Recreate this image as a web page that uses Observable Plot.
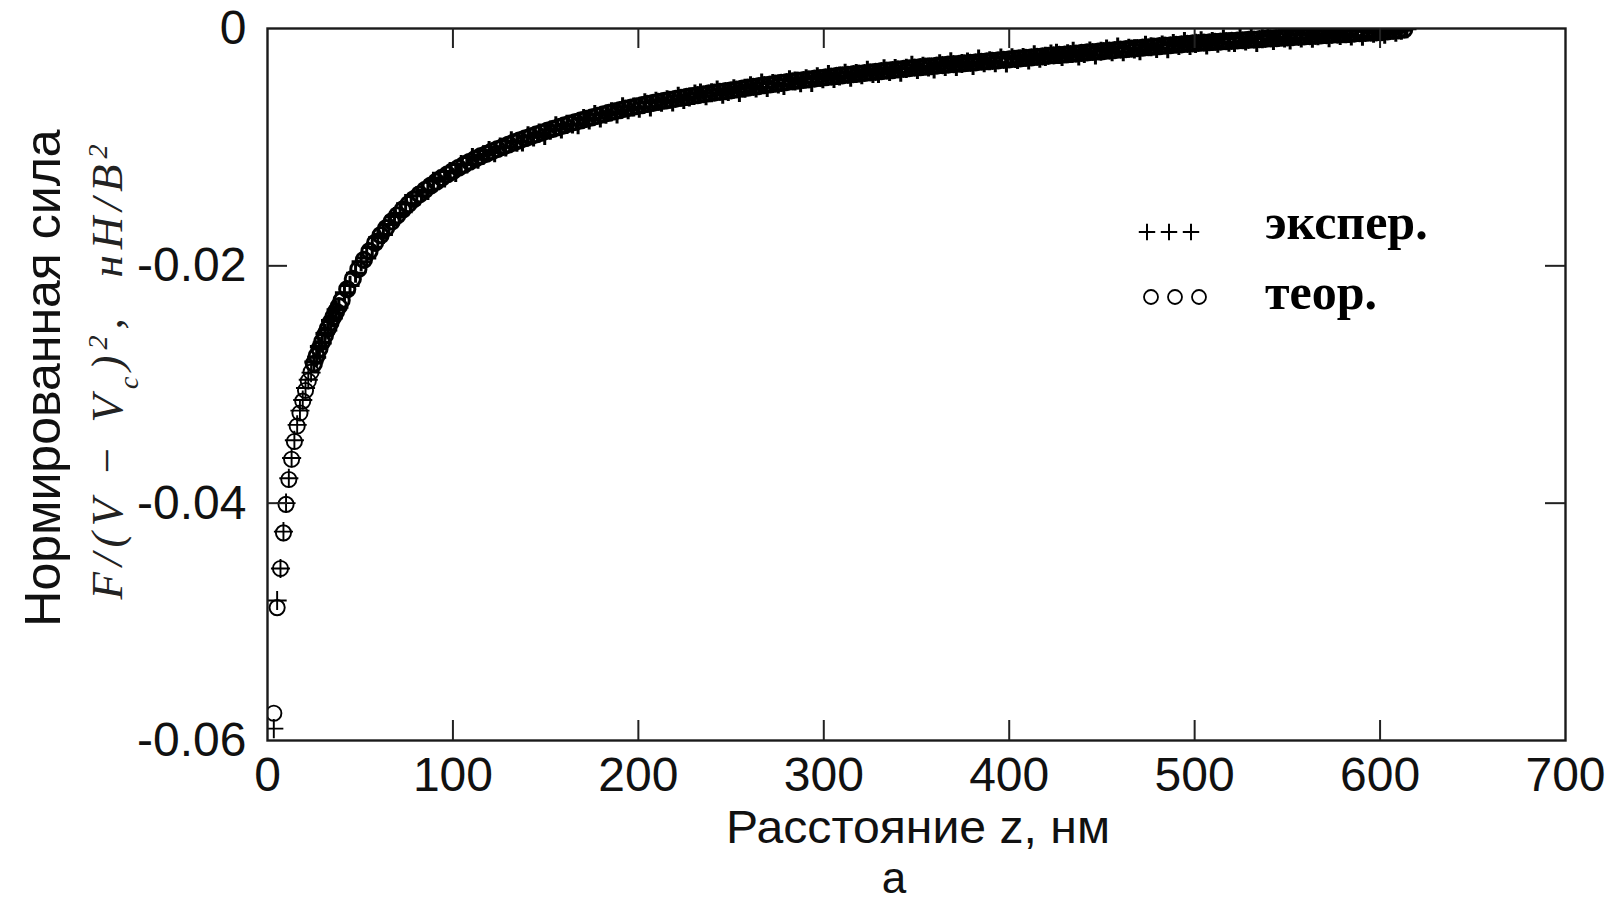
<!DOCTYPE html>
<html>
<head>
<meta charset="utf-8">
<script src="https://cdn.jsdelivr.net/npm/d3@7"></script>
<script src="https://cdn.jsdelivr.net/npm/@observablehq/plot@0.6"></script>
<style>
  html, body { margin: 0; padding: 0; background: #fff; }
</style>
</head>
<body>
<div id="chart"></div>
<script>
// ---- data ----
// theoretical curve: distance z (nm) and normalised force
const zTheory = [3.4,5.2,7,8.6,10,11.5,13,14.5,16,17.5,19,20.5,22,23.5,25,26.5,28,29.5,31,32.5,34,35.5,37,38.5,
40,43,46,49,52,55,58,61,64,67,70,73,76,79,82,85,88,91,94,97,
100,103,106,109,112,115,118,121,124,127,130,133,136,139,142,145,148,151,154,157,160,163,166,169,172,175,178,181,184,187,190,193,196,199,
202,205,208,211,214,217,220,223,226,229,232,235,238,241,244,247,250,253,256,259,262,265,268,271,274,277,280,283,286,289,292,295,298,
301,304,307,310,313,316,319,322,325,328,331,334,337,340,343,346,349,352,355,358,361,364,367,370,373,376,379,382,385,388,391,394,397,
400,403,406,409,412,415,418,421,424,427,430,433,436,439,442,445,448,451,454,457,460,463,466,469,472,475,478,481,484,487,490,493,496,499,
502,505,508,511,514,517,520,523,526,529,532,535,538,541,544,547,550,553,556,559,562,565,568,571,574,577,580,583,586,589,592,595,598,
601,604,607,610,613];

const theory = [-0.0577,-0.0488,-0.0455,-0.0425,-0.0401,-0.038,-0.0363,-0.0348,-0.0335,-0.0324,-0.0314,-0.0305,-0.0297,-0.02895,-0.02825,-0.0276,-0.027,-0.0264,-0.02585,-0.0253,-0.0248,-0.0243,-0.02385,-0.0234,
-0.0229,-0.02197,-0.0211,-0.02028,-0.0195,-0.01876,-0.01807,-0.01742,-0.01682,-0.01626,-0.01574,-0.01525,-0.0148,-0.01437,-0.01397,-0.0136,-0.01324,-0.01291,-0.01259,-0.01229,
-0.01201,-0.01174,-0.01148,-0.01123,-0.01099,-0.01076,-0.01056,-0.01036,-0.01016,-0.00997,-0.00978,-0.00959,-0.00942,-0.00925,-0.00909,-0.00892,-0.00877,-0.00861,-0.00846,-0.00831,-0.00816,-0.00802,-0.00788,-0.00775,-0.00761,-0.00749,-0.00736,-0.00724,-0.00711,-0.00699,-0.00688,-0.00676,-0.00666,-0.00655,
-0.00646,-0.00636,-0.00627,-0.00618,-0.00609,-0.00601,-0.00593,-0.00585,-0.00577,-0.00569,-0.00562,-0.00554,-0.00547,-0.0054,-0.00534,-0.00527,-0.00521,-0.00514,-0.00506,-0.00499,-0.00492,-0.00485,-0.00478,-0.00472,-0.00465,-0.00459,-0.00452,-0.00446,-0.0044,-0.00434,-0.00428,-0.00422,-0.00417,
-0.00411,-0.00406,-0.004,-0.00395,-0.0039,-0.00385,-0.0038,-0.00375,-0.0037,-0.00365,-0.0036,-0.00355,-0.0035,-0.00345,-0.0034,-0.00335,-0.0033,-0.00326,-0.00322,-0.00318,-0.00313,-0.00309,-0.00305,-0.00301,-0.00297,-0.00293,-0.00289,-0.00285,-0.0028,-0.00276,-0.00272,-0.00268,-0.00264,
-0.0026,-0.00256,-0.00252,-0.00248,-0.00244,-0.00239,-0.00235,-0.00231,-0.00227,-0.00223,-0.00219,-0.00215,-0.00211,-0.00206,-0.00202,-0.00198,-0.00194,-0.0019,-0.00186,-0.00182,-0.00178,-0.00174,-0.0017,-0.00166,-0.00162,-0.00158,-0.00153,-0.00149,-0.00145,-0.00141,-0.00137,-0.00133,-0.00129,-0.00125,
-0.00122,-0.00119,-0.00116,-0.00113,-0.0011,-0.00107,-0.00104,-0.00101,-0.00099,-0.00096,-0.00093,-0.0009,-0.00087,-0.00084,-0.00081,-0.00078,-0.00075,-0.00072,-0.0007,-0.00067,-0.00064,-0.00062,-0.00059,-0.00056,-0.00054,-0.00051,-0.00048,-0.00046,-0.00043,-0.0004,-0.00038,-0.00035,-0.00032,
-0.0003,-0.00025,-0.0002,-0.00015,-0.0001];

// experimental points: distance z (nm) and normalised force
const zExperiment = [3.4,5.2,7,8.6,10,11.5,13,14.5,16,17.5,19,20.5,22,23.5,25,26.5,28,29.5,31,32.5,34,35.5,37,38.5,
41.5,44.5,47.5,50.5,53.5,56.5,59.5,62.5,65.5,68.5,71.5,74.5,77.5,80.5,83.5,86.5,89.5,92.5,95.5,98.5,
101.5,104.5,107.5,110.5,113.5,116.5,119.5,122.5,125.5,128.5,131.5,134.5,137.5,140.5,143.5,146.5,149.5,152.5,155.5,158.5,161.5,164.5,167.5,170.5,173.5,176.5,179.5,182.5,185.5,188.5,191.5,194.5,197.5,200.5,
203.5,206.5,209.5,212.5,215.5,218.5,221.5,224.5,227.5,230.5,233.5,236.5,239.5,242.5,245.5,248.5,251.5,254.5,257.5,260.5,263.5,266.5,269.5,272.5,275.5,278.5,281.5,284.5,287.5,290.5,293.5,296.5,299.5,
302.5,305.5,308.5,311.5,314.5,317.5,320.5,323.5,326.5,329.5,332.5,335.5,338.5,341.5,344.5,347.5,350.5,353.5,356.5,359.5,362.5,365.5,368.5,371.5,374.5,377.5,380.5,383.5,386.5,389.5,392.5,395.5,398.5,
401.5,404.5,407.5,410.5,413.5,416.5,419.5,422.5,425.5,428.5,431.5,434.5,437.5,440.5,443.5,446.5,449.5,452.5,455.5,458.5,461.5,464.5,467.5,470.5,473.5,476.5,479.5,482.5,485.5,488.5,491.5,494.5,497.5,500.5,
503.5,506.5,509.5,512.5,515.5,518.5,521.5,524.5,527.5,530.5,533.5,536.5,539.5,542.5,545.5,548.5,551.5,554.5,557.5,560.5,563.5,566.5,569.5,572.5,575.5,578.5,581.5,584.5,587.5,590.5,593.5,596.5,599.5,
602.5,605.5,608.5,611.5,614.5];

const experiment = [-0.059,-0.0482,-0.0455,-0.0424,-0.04,-0.0379,-0.0362,-0.0347,-0.0334,-0.0322,-0.0313,-0.0303,-0.0296,-0.029,-0.0281,-0.0277,-0.0268,-0.0265,-0.0257,-0.0254,-0.0246,-0.0244,-0.0237,-0.0235,
-0.02226,-0.02165,-0.02062,-0.01966,-0.01933,-0.01845,-0.01762,-0.01736,-0.01652,-0.01584,-0.0156,-0.01476,-0.01477,-0.01409,-0.0138,-0.01364,-0.01287,-0.01271,-0.0126,-0.01205,
-0.01213,-0.01147,-0.01142,-0.01087,-0.01102,-0.01065,-0.01028,-0.01046,-0.01,-0.00998,-0.00947,-0.00958,-0.00956,-0.00905,-0.00915,-0.0088,-0.00901,-0.00857,-0.0082,-0.00847,-0.00808,-0.00804,-0.0081,-0.00759,-0.00771,-0.00725,-0.00754,-0.00722,-0.00701,-0.00721,-0.0066,-0.00684,-0.00662,-0.00671,
-0.00626,-0.00662,-0.00613,-0.00622,-0.00601,-0.00619,-0.00571,-0.00597,-0.00577,-0.00553,-0.00544,-0.00566,-0.00541,-0.00518,-0.00554,-0.00531,-0.00509,-0.00538,-0.00504,-0.00483,-0.00502,-0.00459,-0.00496,-0.00464,-0.00467,-0.00481,-0.00432,-0.00442,-0.00456,-0.00424,-0.00454,-0.00408,-0.00423,
-0.00387,-0.0042,-0.004,-0.00377,-0.0041,-0.00379,-0.0039,-0.00353,-0.00378,-0.00379,-0.0034,-0.00361,-0.00338,-0.00369,-0.00336,-0.00309,-0.00346,-0.00318,-0.00324,-0.0034,-0.00297,-0.00319,-0.00281,-0.00319,-0.00295,-0.00283,-0.00311,-0.00257,-0.00288,-0.00272,-0.00288,-0.00248,-0.0029,
-0.00246,-0.0026,-0.00244,-0.00266,-0.00222,-0.00251,-0.00235,-0.00215,-0.00209,-0.00235,-0.00213,-0.00193,-0.00231,-0.0021,-0.0019,-0.00222,-0.00192,-0.00174,-0.00196,-0.00156,-0.00196,-0.00166,-0.00172,-0.00188,-0.00142,-0.00154,-0.00169,-0.00139,-0.00171,-0.00127,-0.00143,-0.00109,-0.00143,-0.00125,
-0.00104,-0.00139,-0.0011,-0.00123,-0.00088,-0.00115,-0.00118,-0.00081,-0.00105,-0.00084,-0.00117,-0.00086,-0.00061,-0.001,-0.00073,-0.0008,-0.00097,-0.00056,-0.0008,-0.00043,-0.00082,-0.0006,-0.00049,-0.00078,-0.00026,-0.00059,-0.00044,-0.00062,-0.00023,-0.00066,-0.00024,-0.00039,-0.00024,
-0.00048,-0.00003,-0.00032,-0.00015,-0.00002];

const xTickValues = [0,100,200,300,400,500,600,700];
const yTickValues = [0,-0.02,-0.04,-0.06];
const xInnerTicks = [100,200,300,400,500,600];
const yInnerTicks = [-0.02,-0.04];
const xLabel = "Расстояние z, нм";
const yLabel = "Нормированная сила";
const panelLabel = "а";
const legendLabels = ["экспер.", "теор."];

// ---- chart ----
const theoryRows = zTheory.map((z, i) => ({z, f: theory[i]}));
const expRows = zExperiment.map((z, i) => ({z, f: experiment[i]}));

const W = 1612, H = 903, mL = 267, mR = 47, mT = 28, mB = 163;
const innerW = W - mL - mR, innerH = H - mT - mB, tickLen = 20;
const sans = "'Liberation Sans', Arial, sans-serif";
const serif = "'Liberation Serif', 'Times New Roman', serif";
const fs = 48;
// sparse markers near the surface are drawn thin; the dense band heavier
const markWidth = d => d.z < 24 ? 1.9 : 3;

const plot = Plot.plot({
  width: W, height: H,
  marginLeft: mL, marginRight: mR, marginTop: mT, marginBottom: mB,
  style: {fontFamily: sans, fontSize: fs + "px", color: "#111", background: "#fff"},
  x: {domain: [0, 700]},
  y: {domain: [-0.06, 0]},
  marks: [
    Plot.dot(theoryRows, {x: "z", y: "f", symbol: "circle", r: 7.6, fill: "none", stroke: "#000", strokeWidth: markWidth, clip: true}),
    Plot.dot(expRows, {x: "z", y: "f", symbol: "plus", r: 6.2, fill: "none", stroke: "#000", strokeWidth: markWidth, clip: true}),
    Plot.frame({stroke: "#1a1a1a", strokeWidth: 2.4}),
    Plot.tickX(xInnerTicks, {x: d => d, insetTop: innerH - tickLen, stroke: "#222", strokeWidth: 2}),
    Plot.tickX(xInnerTicks, {x: d => d, insetBottom: innerH - tickLen, stroke: "#222", strokeWidth: 2}),
    Plot.tickY(yInnerTicks, {y: d => d, insetRight: innerW - tickLen, stroke: "#222", strokeWidth: 2}),
    Plot.tickY(yInnerTicks, {y: d => d, insetLeft: innerW - tickLen, stroke: "#222", strokeWidth: 2}),
    Plot.axisX({ticks: xTickValues, tickSize: 0, tickPadding: 16, fontSize: fs, label: null, tickFormat: d => String(d)}),
    Plot.axisY({ticks: yTickValues, tickSize: 0, tickPadding: 21, fontSize: fs, label: null,
                tickFormat: d => d === 0 ? "0" : d.toFixed(2)})
  ]
});
document.getElementById("chart").appendChild(plot);

const svg = d3.select(plot);

// x-axis label and panel letter
svg.append("text").attr("x", 918).attr("y", 843).attr("text-anchor", "middle")
  .attr("font-family", sans).attr("font-size", 46).attr("fill", "#111")
  .attr("textLength", 384).attr("lengthAdjust", "spacingAndGlyphs").text(xLabel);
svg.append("text").attr("x", 894).attr("y", 893).attr("text-anchor", "middle")
  .attr("font-family", sans).attr("font-size", 44).attr("fill", "#111").text(panelLabel);

// y-axis label, two lines
svg.append("text").attr("transform", "translate(60,378) rotate(-90)").attr("text-anchor", "middle")
  .attr("font-family", sans).attr("font-size", 50).attr("fill", "#111").text(yLabel);
const f = svg.append("text").attr("transform", "translate(122,372) rotate(-90)").attr("text-anchor", "middle")
  .attr("font-family", serif).attr("font-style", "italic").attr("font-size", 45).attr("fill", "#222")
  .attr("textLength", 455).attr("lengthAdjust", "spacing");
f.append("tspan").text("F/(V − V");
f.append("tspan").attr("font-size", 28).attr("baseline-shift", "sub").text("c");
f.append("tspan").text(")");
f.append("tspan").attr("font-size", 28).attr("baseline-shift", "super").text("2");
f.append("tspan").text(",  нН/В");
f.append("tspan").attr("font-size", 28).attr("baseline-shift", "super").text("2");

// legend
const legend = svg.append("g");
[1147, 1169, 1191].forEach(cx => legend.append("path")
  .attr("d", d3.symbol(d3.symbolPlus, 90)()).attr("transform", `translate(${cx},232)`)
  .attr("fill", "none").attr("stroke", "#000").attr("stroke-width", 2));
[1151, 1175, 1199].forEach(cx => legend.append("circle")
  .attr("cx", cx).attr("cy", 297).attr("r", 7).attr("fill", "none").attr("stroke", "#000").attr("stroke-width", 1.8));
legend.append("text").attr("x", 1265).attr("y", 239).attr("text-anchor", "start").attr("font-family", serif)
  .attr("font-weight", "bold").attr("font-size", 50).attr("fill", "#000").text(legendLabels[0]);
legend.append("text").attr("x", 1265).attr("y", 309).attr("text-anchor", "start").attr("font-family", serif)
  .attr("font-weight", "bold").attr("font-size", 50).attr("fill", "#000").text(legendLabels[1]);
</script>
</body>
</html>
